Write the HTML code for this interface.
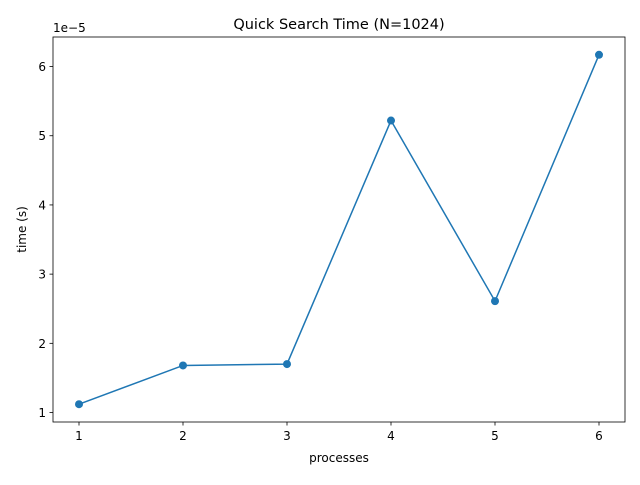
<!DOCTYPE html>
<html><head><meta charset="utf-8"><style>
body{margin:0;background:#fff;font-family:"Liberation Sans","DejaVu Sans",sans-serif;}
</style></head><body>
<svg id="chart" width="640" height="480" xmlns="http://www.w3.org/2000/svg" font-family="DejaVu Sans, Liberation Sans, sans-serif">
<rect width="640" height="480" fill="#fff"/>
<g id="plot"></g>
</svg>
<script>
const categories=[1,2,3,4,5,6];
const times=[1.12,1.68,1.70,5.22,2.61,6.17];
const yTicks=[1,2,3,4,5,6];
const xTickLabels=["1","2","3","4","5","6"];
const L=53,R=625,T=37,B=422;
const xmin=0.75,xmax=6.25,ymin=0.863,ymax=6.427;
const sx=v=>L+(v-xmin)/(xmax-xmin)*(R-L);
const sy=v=>B-(v-ymin)/(ymax-ymin)*(B-T);
const NS="http://www.w3.org/2000/svg";
const g=document.getElementById('plot');
function mk(t,a,txt){const e=document.createElementNS(NS,t);for(const k in a)e.setAttribute(k,a[k]);if(txt!==undefined)e.textContent=txt;g.appendChild(e);return e;}
let e=mk('rect',{x:L,y:T,width:R-L,height:B-T,fill:'none',stroke:'#000','stroke-width':0.8});


categories.forEach((c,i)=>{const x=sx(c);
 let t=mk('line',{x1:x,x2:x,y1:B,y2:B+3.5,stroke:'#000','stroke-width':0.8});
 
 
 let l=mk('text',{x:x,y:B+18,'text-anchor':'middle','font-size':12},xTickLabels[i]);
 
 
});
yTicks.forEach(v=>{const y=sy(v);
 let t=mk('line',{x1:L-3.5,x2:L,y1:y,y2:y,stroke:'#000','stroke-width':0.8});
 
 
 let l=mk('text',{x:L-7,y:y+4.5,'text-anchor':'end','font-size':12},String(v));
 
 
});
let pts=categories.map((c,i)=>sx(c)+','+sy(times[i])).join(' ');
let ln=mk('polyline',{points:pts,fill:'none',stroke:'#1f77b4','stroke-width':1.5});


categories.forEach((c,i)=>{
 let p=mk('circle',{cx:sx(c),cy:sy(times[i]),r:4,fill:'#1f77b4'});
 
 
});
let tt=mk('text',{x:(L+R)/2,y:T-8,'text-anchor':'middle','font-size':14.5},'Quick Search Time (N=1024)');


let xl=mk('text',{x:(L+R)/2,y:462,'text-anchor':'middle','font-size':12},'processes');


let yl=mk('text',{x:0,y:0,'text-anchor':'middle','font-size':12,transform:`translate(26,${(T+B)/2}) rotate(-90)`},'time (s)');


let off=mk('text',{x:L,y:T-5,'font-size':12},'1e\u22125');


</script>
</body></html>
